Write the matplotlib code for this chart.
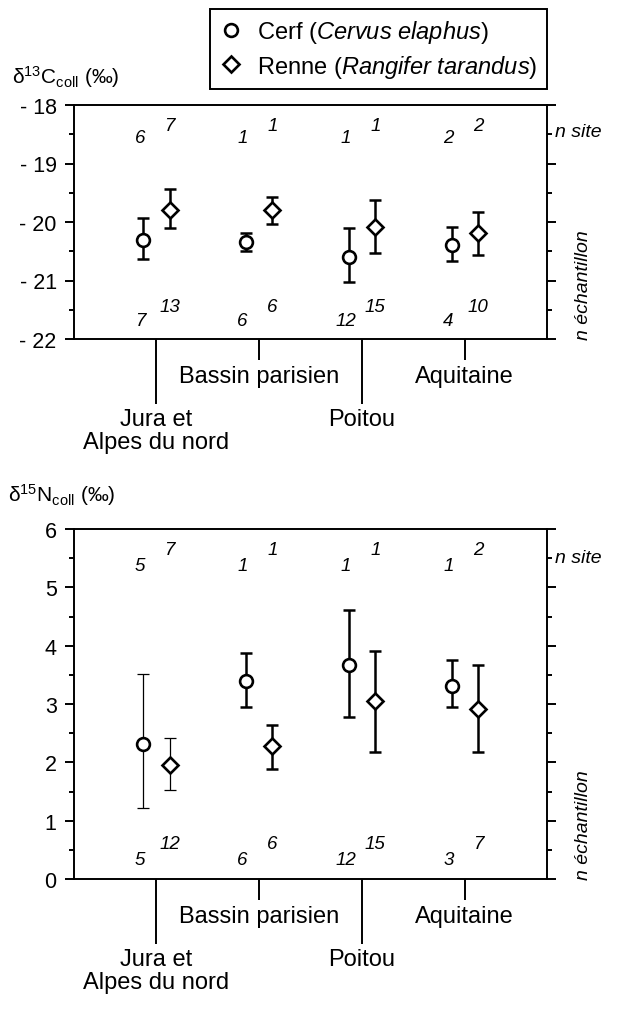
import matplotlib
matplotlib.use("Agg")
import matplotlib.pyplot as plt
from matplotlib.lines import Line2D
from matplotlib.transforms import blended_transform_factory

plt.rcParams['font.family'] = ['Liberation Sans', 'DejaVu Sans']
plt.rcParams['mathtext.fontset'] = 'custom'
plt.rcParams['mathtext.rm'] = 'Liberation Sans'
plt.rcParams['mathtext.it'] = 'Liberation Sans:italic'

# regions (x positions 1..4)
region_pos = [1, 2, 3, 4]
major_names = ['Jura et\nAlpes du nord', 'Poitou']
minor_names = ['Bassin parisien', 'Aquitaine']

# delta 13C collagen : mean, upper and lower end of the bars
c_cerf = [-20.31, -20.34, -20.60, -20.40]
c_cerf_hi = [-19.93, -20.18, -20.11, -20.09]
c_cerf_lo = [-20.64, -20.50, -21.03, -20.67]
c_renne = [-19.80, -19.80, -20.09, -20.18]
c_renne_hi = [-19.43, -19.58, -19.62, -19.83]
c_renne_lo = [-20.11, -20.03, -20.53, -20.57]

# delta 15N collagen
n_cerf = [2.32, 3.39, 3.67, 3.31]
n_cerf_hi = [3.52, 3.88, 4.62, 3.76]
n_cerf_lo = [1.21, 2.95, 2.77, 2.95]
n_renne = [1.96, 2.28, 3.05, 2.91]
n_renne_hi = [2.42, 2.64, 3.91, 3.67]
n_renne_lo = [1.53, 1.89, 2.18, 2.17]

# counts (sites / samples)
c_site_cerf = [6, 1, 1, 2]
c_site_renne = [7, 1, 1, 2]
c_ech_cerf = [7, 6, 12, 4]
c_ech_renne = [13, 6, 15, 10]
n_site_cerf = [5, 1, 1, 1]
n_site_renne = [7, 1, 1, 2]
n_ech_cerf = [5, 6, 12, 3]
n_ech_renne = [12, 6, 15, 7]

W, H = 627, 1012
fig = plt.figure(figsize=(W / 100, H / 100), dpi=100)
ax1 = fig.add_axes([74 / W, 1 - 340 / H, 473 / W, 234 / H])
ax2 = fig.add_axes([74 / W, 1 - 880 / H, 473 / W, 350 / H])

dx_c, dx_r = -0.125, 0.13
lw_axis = 1.4
ms_c, ms_r = 9.2, 7.8


def draw_series(ax, means, hi, lo, dx, marker, ms, thin):
    for i, x in enumerate(region_pos):
        lw = 0.9 if thin[i] else 1.8
        ax.errorbar(x + dx, means[i], yerr=[[means[i] - lo[i]], [hi[i] - means[i]]],
                    fmt='none', ecolor='black', elinewidth=lw, capsize=4.2,
                    capthick=lw, zorder=2)
    ax.plot([x + dx for x in region_pos], means, ls='none', marker=marker, ms=ms,
            mfc='white', mec='black', mew=1.9, zorder=3)


def setup(ax, ylim, majors, minors, labels, site_y, ech_y, sites, echs):
    ax.set_xlim(0.2, 4.8)
    ax.set_ylim(*ylim)
    ax.set_yticks(majors)
    ax.set_yticks(minors, minor=True)
    ax.set_yticklabels(labels)
    ax.tick_params(axis='y', which='both', direction='out', left=True, right=True,
                   width=lw_axis)
    ax.tick_params(axis='y', which='major', length=6.5, labelsize=15.5, pad=6)
    ax.tick_params(axis='y', which='minor', length=3.5)
    ax.set_xticks([1, 3])
    ax.set_xticks([2, 4], minor=True)
    ax.set_xticklabels(major_names, linespacing=1.05)
    ax.set_xticklabels(minor_names, minor=True)
    ax.tick_params(axis='x', which='major', direction='out', length=47, width=lw_axis,
                   labelsize=17, pad=3)
    ax.tick_params(axis='x', which='minor', direction='out', length=15, width=lw_axis,
                   labelsize=17, pad=4)
    for s in ax.spines.values():
        s.set_linewidth(lw_axis)
    for i, x in enumerate(region_pos):
        ax.text(x - 0.16, site_y[0], str(sites[0][i]), style='italic', fontsize=13.5,
                ha='center', va='center')
        ax.text(x + 0.13, site_y[1], str(sites[1][i]), style='italic', fontsize=13.5,
                ha='center', va='center')
        ax.text(x - 0.16, ech_y[0], str(echs[0][i]), style='italic', fontsize=13.5,
                ha='center', va='center')
        ax.text(x + 0.13, ech_y[1], str(echs[1][i]), style='italic', fontsize=13.5,
                ha='center', va='center')
    tr = blended_transform_factory(ax.transAxes, ax.transData)
    ax.text(1.017, site_y[0] * 0.5 + site_y[1] * 0.5, 'n site', style='italic',
            fontsize=14, ha='left', va='center', transform=tr)
    ax.text(1.078, ylim[0], 'n échantillon', style='italic', fontsize=14,
            rotation=90, ha='center', va='bottom', transform=tr)


thin_c = [False, False, False, False]
thin_n = [True, False, False, False]

draw_series(ax1, c_cerf, c_cerf_hi, c_cerf_lo, dx_c, 'o', ms_c, thin_c)
draw_series(ax1, c_renne, c_renne_hi, c_renne_lo, dx_r, 'D', ms_r, thin_c)
setup(ax1, (-22, -18), [-22, -21, -20, -19, -18], [-21.5, -20.5, -19.5, -18.5],
      ['- 22', '- 21', '- 20', '- 19', '- 18'], (-18.55, -18.35), (-21.68, -21.45),
      (c_site_cerf, c_site_renne), (c_ech_cerf, c_ech_renne))

draw_series(ax2, n_cerf, n_cerf_hi, n_cerf_lo, dx_c, 'o', ms_c, thin_n)
draw_series(ax2, n_renne, n_renne_hi, n_renne_lo, dx_r, 'D', ms_r, thin_n)
setup(ax2, (0, 6), [0, 1, 2, 3, 4, 5, 6], [0.5, 1.5, 2.5, 3.5, 4.5, 5.5],
      ['0', '1', '2', '3', '4', '5', '6'], (5.38, 5.65), (0.33, 0.6),
      (n_site_cerf, n_site_renne), (n_ech_cerf, n_ech_renne))

fig.text(12 / W, 1 - 77 / H, 'δ$^{13}$C$_{\\mathrm{coll}}$ (‰)', fontsize=15,
         ha='left', va='center')
fig.text(8 / W, 1 - 495 / H, 'δ$^{15}$N$_{\\mathrm{coll}}$ (‰)', fontsize=15,
         ha='left', va='center')

handles = [
    Line2D([], [], ls='none', marker='o', ms=ms_c, mfc='white', mec='black', mew=1.9),
    Line2D([], [], ls='none', marker='D', ms=ms_r, mfc='white', mec='black', mew=1.9),
]
labels = ['Cerf ($\\mathit{Cervus\\ elaphus}$)', 'Renne ($\\mathit{Rangifer\\ tarandus}$)']
leg = fig.legend(handles, labels, loc='upper right', bbox_to_anchor=(547 / W, 1 - 10 / H),
                 borderaxespad=0, fontsize=17, frameon=True, fancybox=False,
                 edgecolor='black', framealpha=1, handlelength=1.0, handletextpad=0.6,
                 labelspacing=0.3, borderpad=0.4)
leg.get_frame().set_linewidth(1.4)

fig.savefig('out.png', dpi=100)
